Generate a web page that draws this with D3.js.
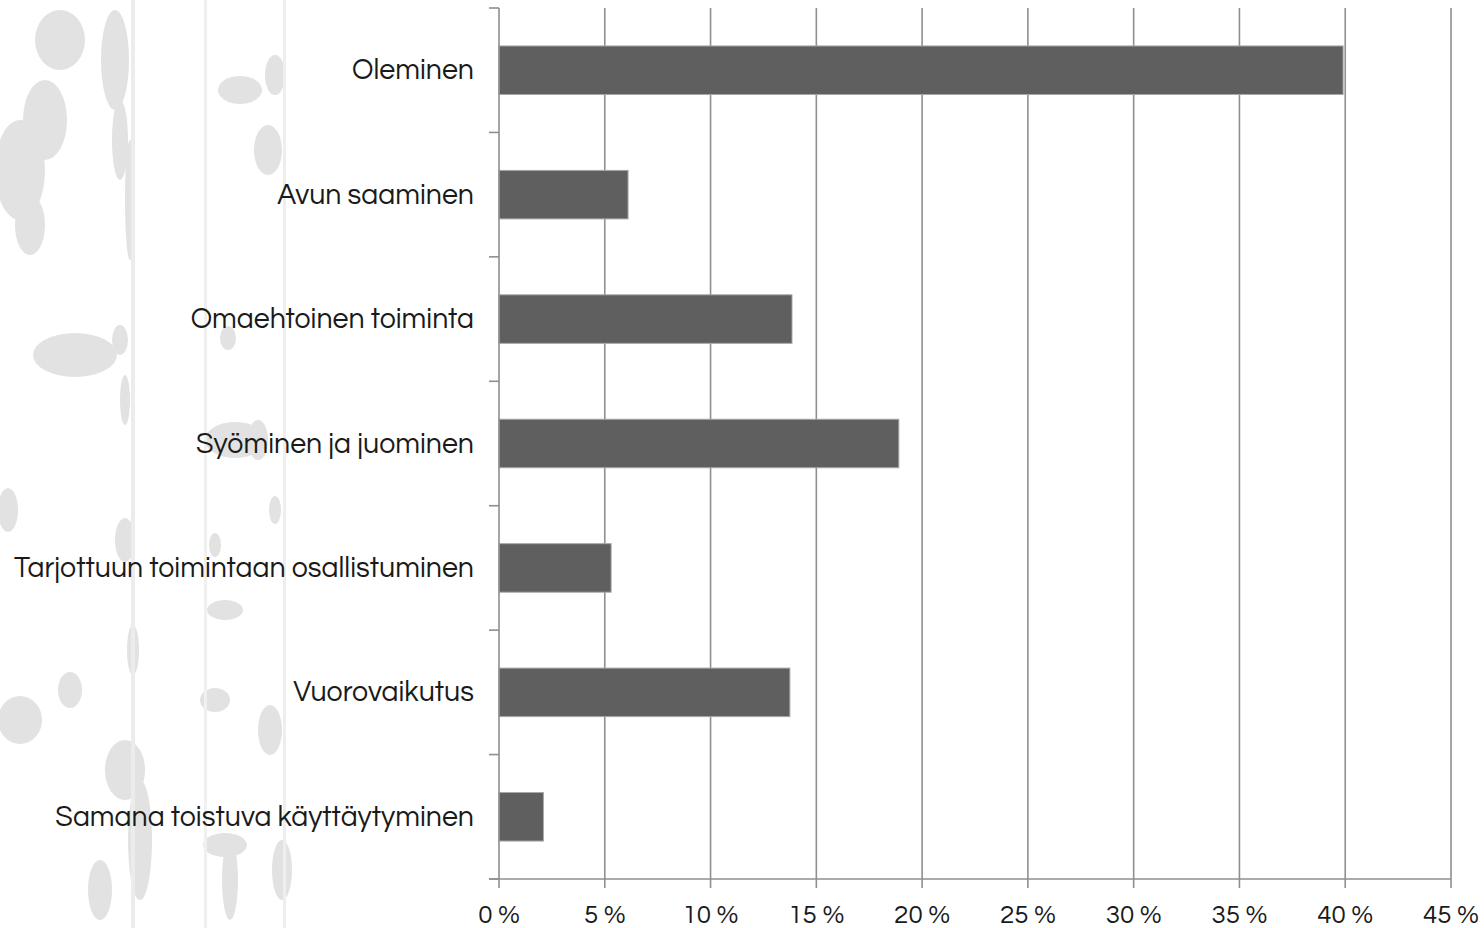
<!DOCTYPE html>
<html><head><meta charset="utf-8">
<script src="https://cdn.jsdelivr.net/npm/d3@7"></script>
<style>html,body{margin:0;padding:0;background:#fff;}svg{display:block;}</style>
</head><body>
<svg id="c" width="1484" height="928"></svg>
<script>
const categories = ["Oleminen","Avun saaminen","Omaehtoinen toiminta","Syöminen ja juominen","Tarjottuun toimintaan osallistuminen","Vuorovaikutus","Samana toistuva käyttäytyminen"];
const values = [39.9, 6.1, 13.85, 18.9, 5.3, 13.75, 2.1];
const tickValues = [0,5,10,15,20,25,30,35,40,45];
const tickLabels = ["0 %","5 %","10 %","15 %","20 %","25 %","30 %","35 %","40 %","45 %"];

const svg = d3.select("#c");
const FONT = "'Questrial','Lato','DejaVu Sans',sans-serif";

// decorative birch-bark background (light blobs)
const bg = svg.append("g").attr("fill","#e2e2e2");
const blobs = [
  [60,40,25,30],[45,120,22,40],[20,170,25,50],[30,225,15,30],
  [115,60,14,50],[120,140,8,40],[130,200,5,60],
  [240,90,22,14],[268,150,14,25],[275,75,10,20],
  [75,355,42,22],[120,340,8,15],[125,400,5,25],
  [228,338,8,12],[235,440,30,18],[258,440,10,20],
  [8,510,10,22],[125,540,10,22],[215,545,6,12],[275,510,6,14],
  [225,610,18,10],[70,690,12,18],[20,720,22,24],[133,650,6,25],
  [125,770,20,30],[140,840,12,60],[215,700,15,12],[270,730,12,25],
  [225,845,22,12],[282,870,10,30],[230,880,8,40],[100,890,12,30]
];
bg.selectAll("ellipse").data(blobs).join("ellipse")
  .attr("cx",d=>d[0]).attr("cy",d=>d[1]).attr("rx",d=>d[2]).attr("ry",d=>d[3]);
bg.append("rect").attr("x",131).attr("y",0).attr("width",4).attr("height",928).attr("fill","#ececec");
bg.append("rect").attr("x",204).attr("y",0).attr("width",3).attr("height",928).attr("fill","#f0f0f0");
bg.append("rect").attr("x",283).attr("y",0).attr("width",3).attr("height",928).attr("fill","#eeeeee");

const x = d3.scaleLinear().domain([0,45]).range([499,1451]);
const y = d3.scaleBand().domain(categories).range([8,879]).padding(0);
const step = y.step();

// gridlines
svg.append("g").selectAll("line").data(tickValues.slice(1)).join("line")
  .attr("x1",d=>x(d)).attr("x2",d=>x(d)).attr("y1",8).attr("y2",879)
  .attr("stroke","#8f8f8f").attr("stroke-width",1.6);

// bars
svg.append("g").selectAll("rect").data(categories).join("rect")
  .attr("x",x(0)).attr("y",d=>y(d)+step*0.305)
  .attr("width",(d,i)=>x(values[i])-x(0)).attr("height",step*0.39)
  .attr("fill","#5f5f5f").attr("stroke","#a8a8a8").attr("stroke-width",1);

// y axis
const yAxis = svg.append("g");
yAxis.append("line").attr("x1",x(0)).attr("x2",x(0)).attr("y1",8).attr("y2",879)
  .attr("stroke","#8f8f8f").attr("stroke-width",1.6);
const bounds = categories.map(c=>y(c)).concat([879]);
yAxis.selectAll("line.t").data(bounds).join("line").attr("class","t")
  .attr("x1",x(0)-10).attr("x2",x(0)).attr("y1",d=>d).attr("y2",d=>d)
  .attr("stroke","#8f8f8f").attr("stroke-width",1.6);
yAxis.selectAll("text").data(categories).join("text")
  .attr("x",474).attr("y",d=>y(d)+step/2+9)
  .attr("text-anchor","end").attr("font-family",FONT).attr("font-size",24)
  .attr("fill","#1a1a1a").text(d=>d);

// x axis
const xAxis = svg.append("g");
xAxis.append("line").attr("x1",x(0)-10).attr("x2",x(45)).attr("y1",879).attr("y2",879)
  .attr("stroke","#8f8f8f").attr("stroke-width",1.6);
xAxis.selectAll("line.t").data(tickValues).join("line").attr("class","t")
  .attr("x1",d=>x(d)).attr("x2",d=>x(d)).attr("y1",879).attr("y2",888)
  .attr("stroke","#8f8f8f").attr("stroke-width",1.6);
xAxis.selectAll("text").data(tickValues).join("text")
  .attr("x",d=>x(d)).attr("y",923)
  .attr("text-anchor","middle").attr("font-family",FONT).attr("font-size",23)
  .attr("fill","#1a1a1a").text((d,i)=>tickLabels[i]);

// fit label widths to reference (longest label ~460px)
const longest = yAxis.selectAll("text").filter(d=>d===categories[4]).node();
const w = longest.getComputedTextLength();
const fs = 24*460/w;
yAxis.selectAll("text").attr("font-size",fs);
const t10 = xAxis.selectAll("text").filter(d=>d===10).node();
const w10 = t10.getComputedTextLength();
xAxis.selectAll("text").attr("font-size",23*56/w10);
</script>
</body></html>
